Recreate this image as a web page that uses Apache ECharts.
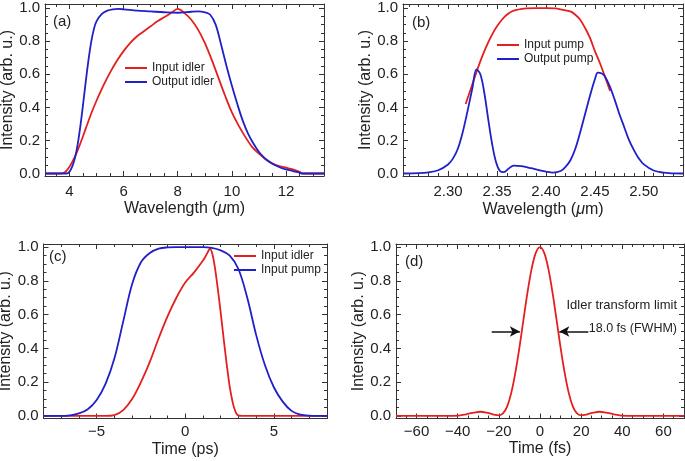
<!DOCTYPE html>
<html><head><meta charset="utf-8">
<script src="https://cdn.jsdelivr.net/npm/echarts@6/dist/echarts.min.js"></script>
<style>html,body{margin:0;padding:0;background:#fff}#c{width:685px;height:461px}</style>
</head><body><div id="c"></div>
<script>
const RED = '#e3201f', BLUE = '#2020c8';
const FONT = '"Liberation Sans", Arial, sans-serif';

// ---------- Panel (a): idler spectra ----------
const aWlInput = [3.1, 3.6, 3.8, 4.0, 4.2, 4.4, 4.6, 4.8, 5.0, 5.25, 5.5, 5.75, 6.0, 6.25, 6.5, 6.75, 7.0, 7.25, 7.5, 7.75, 8.0, 8.25, 8.5, 8.75, 9.0, 9.25, 9.5, 9.75, 10.0, 10.25, 10.5, 10.75, 11.0, 11.25, 11.5, 11.75, 12.0, 12.25, 12.5, 12.6, 13.4];
const aInputIdler = [0, 0, 0.005, 0.04, 0.10, 0.18, 0.27, 0.36, 0.44, 0.53, 0.61, 0.68, 0.74, 0.79, 0.83, 0.86, 0.89, 0.92, 0.945, 0.97, 0.995, 0.97, 0.93, 0.87, 0.79, 0.69, 0.58, 0.47, 0.37, 0.29, 0.22, 0.16, 0.12, 0.085, 0.06, 0.045, 0.035, 0.025, 0.01, 0, 0];
const aWlOutput = [3.1, 3.9, 4.0, 4.1, 4.2, 4.3, 4.4, 4.5, 4.6, 4.7, 4.8, 4.9, 5.0, 5.2, 5.4, 5.6, 5.8, 6.0, 6.5, 7.0, 7.5, 8.0, 8.5, 8.75, 9.0, 9.2, 9.4, 9.6, 9.8, 10.0, 10.2, 10.4, 10.6, 10.8, 11.0, 11.2, 11.4, 11.6, 11.8, 12.0, 12.25, 12.5, 12.6, 13.4];
const aOutputIdler = [0, 0, 0.01, 0.04, 0.09, 0.17, 0.28, 0.41, 0.55, 0.68, 0.79, 0.87, 0.92, 0.965, 0.985, 0.993, 0.995, 0.993, 0.985, 0.98, 0.975, 0.972, 0.978, 0.98, 0.975, 0.96, 0.90, 0.78, 0.65, 0.53, 0.42, 0.32, 0.24, 0.18, 0.13, 0.095, 0.07, 0.05, 0.035, 0.025, 0.015, 0.005, 0, 0];
const aXTicks = [4, 6, 8, 10, 12];

// ---------- Panel (b): pump spectra ----------
const bWlInput = [2.318, 2.322, 2.326, 2.33, 2.335, 2.34, 2.345, 2.35, 2.355, 2.36, 2.365, 2.37, 2.375, 2.38, 2.39, 2.40, 2.41, 2.415, 2.42, 2.425, 2.43, 2.435, 2.44, 2.445, 2.45, 2.455, 2.46, 2.4655];
const bInputPump = [0.42, 0.49, 0.56, 0.63, 0.71, 0.78, 0.84, 0.89, 0.93, 0.96, 0.98, 0.99, 0.995, 0.998, 1.0, 1.0, 0.998, 0.993, 0.987, 0.98, 0.96, 0.93, 0.88, 0.82, 0.74, 0.67, 0.59, 0.5];
const bWlOutput = [2.254, 2.27, 2.28, 2.29, 2.30, 2.305, 2.31, 2.315, 2.32, 2.325, 2.329, 2.333, 2.337, 2.341, 2.345, 2.349, 2.353, 2.357, 2.362, 2.367, 2.375, 2.385, 2.395, 2.40, 2.407, 2.415, 2.42, 2.425, 2.43, 2.435, 2.44, 2.445, 2.45, 2.453, 2.457, 2.46, 2.465, 2.47, 2.475, 2.48, 2.485, 2.49, 2.495, 2.50, 2.51, 2.52, 2.53, 2.54];
const bOutputPump = [0, 0.002, 0.007, 0.02, 0.055, 0.09, 0.15, 0.25, 0.38, 0.52, 0.63, 0.6, 0.49, 0.33, 0.18, 0.07, 0.015, 0.008, 0.03, 0.048, 0.045, 0.032, 0.018, 0.012, 0.006, 0.015, 0.04, 0.08, 0.15, 0.25, 0.36, 0.47, 0.57, 0.61, 0.605, 0.59, 0.53, 0.45, 0.36, 0.28, 0.2, 0.14, 0.09, 0.055, 0.018, 0.005, 0.001, 0];
const bXTicks = [2.30, 2.35, 2.40, 2.45, 2.50];

// ---------- Panel (c): temporal profiles ----------
const cTimeIdler = [-8, -4.5, -4, -3.5, -3, -2.5, -2, -1.5, -1, -0.5, 0, 0.5, 1, 1.2, 1.4, 1.55, 1.7, 1.9, 2.1, 2.3, 2.5, 2.6, 2.7, 2.8, 2.9, 3.0, 3.2, 8];
const cInputIdler = [0, 0, 0.005, 0.035, 0.1, 0.2, 0.32, 0.46, 0.59, 0.7, 0.79, 0.85, 0.92, 0.955, 0.99, 0.95, 0.86, 0.7, 0.52, 0.34, 0.18, 0.12, 0.07, 0.035, 0.012, 0.003, 0, 0];
const cTimePump = [-8, -7, -6.5, -6, -5.5, -5, -4.5, -4, -3.5, -3, -2.5, -2, -1.5, -1, -0.5, 0, 0.5, 1, 1.5, 2, 2.5, 3, 3.5, 4, 4.5, 5, 5.5, 6, 6.5, 7, 8];
const cInputPump = [0, 0, 0.004, 0.015, 0.04, 0.095, 0.19, 0.34, 0.56, 0.78, 0.91, 0.965, 0.99, 0.998, 1, 1, 1, 1, 0.995, 0.98, 0.95, 0.87, 0.7, 0.48, 0.3, 0.17, 0.085, 0.03, 0.008, 0.002, 0];
const cXTicks = [-5, 0, 5];

// ---------- Panel (d): transform limit ----------
const dTime = [-70, -45, -40, -36, -32, -29, -26, -23, -20, -18, -16, -14, -12, -10, -8, -6, -4, -2, 0, 2, 4, 6, 8, 10, 12, 14, 16, 18, 20, 23, 26, 29, 32, 36, 40, 45, 70];
const dIntensity = [0, 0, 0.002, 0.01, 0.02, 0.025, 0.02, 0.01, 0.004, 0.015, 0.055, 0.135, 0.255, 0.405, 0.573, 0.737, 0.875, 0.967, 1.0, 0.967, 0.875, 0.737, 0.573, 0.405, 0.255, 0.135, 0.055, 0.015, 0.004, 0.01, 0.02, 0.025, 0.02, 0.01, 0.002, 0, 0];
const dXTicks = [-60, -40, -20, 0, 20, 40, 60];

const yTicks = [0, 0.2, 0.4, 0.6, 0.8, 1.0];

function zip(xs, ys) { return xs.map((x, i) => [x, ys[i]]); }
function steps(min, max, step) {
  const v = []; const s = Math.ceil(min / step - 1e-9);
  for (let k = s; k * step <= max + 1e-9; k++) v.push(+(k * step).toFixed(6));
  return v;
}
const minus = v => String(v).replace('-', '\u2212');

const grids = [], xAxes = [], yAxes = [], series = [], legends = [];
const TXT = '#222', LINE = '#333';

function panel(p) {
  const gi = grids.length;
  grids.push({ left: p.left, top: p.top, width: p.width, height: p.height, containLabel: false, outerBoundsMode: 'none' });
  const xi = xAxes.length, yi = yAxes.length;
  const axLine = { show: true, onZero: false, lineStyle: { color: LINE, width: 1 } };
  const noLine = { show: false, onZero: false };
  const base = { type: 'value', gridIndex: gi, splitLine: { show: false }, silent: true };
  const tick = (vals, len) => ({ show: true, inside: true, length: len, customValues: vals, lineStyle: { color: LINE, width: 1 } });
  const xMinor = steps(p.xmin, p.xmax, p.xMinorStep);
  const yMinor = steps(p.ymin, p.ymax, 0.05);
  const xr = { min: p.xmin, max: p.xmax }, yr = { min: p.ymin, max: p.ymax };
  xAxes.push(Object.assign({}, base, xr, {
    position: 'bottom', axisLine: axLine, axisTick: tick(p.xTicks, 5),
    axisLabel: { show: true, customValues: p.xTicks, formatter: p.xFmt, margin: p.xLabelMargin, fontSize: 15, color: TXT, fontFamily: FONT },
    name: p.xName, nameLocation: 'middle', nameGap: p.xNameGap,
    nameTextStyle: { fontSize: 16, color: TXT, fontFamily: FONT, rich: { i: { fontSize: 16, fontStyle: 'italic', color: TXT, fontFamily: FONT } } }
  }));
  xAxes.push(Object.assign({}, base, xr, { position: 'top', axisLine: axLine, axisTick: tick(p.xTicks, 5), axisLabel: { show: false } }));
  xAxes.push(Object.assign({}, base, xr, { position: 'bottom', axisLine: noLine, axisTick: tick(xMinor, 3), axisLabel: { show: false } }));
  xAxes.push(Object.assign({}, base, xr, { position: 'top', axisLine: noLine, axisTick: tick(xMinor, 3), axisLabel: { show: false } }));
  yAxes.push(Object.assign({}, base, yr, {
    position: 'left', axisLine: axLine, axisTick: tick(yTicks, 5),
    axisLabel: { show: true, customValues: yTicks, formatter: v => v.toFixed(1), margin: 5, fontSize: 15, color: TXT, fontFamily: FONT },
    name: 'Intensity (arb. u.)', nameLocation: 'middle', nameGap: p.yNameGap, nameRotate: 90,
    nameTextStyle: { fontSize: 16, color: TXT, fontFamily: FONT }
  }));
  yAxes.push(Object.assign({}, base, yr, { position: 'right', axisLine: axLine, axisTick: tick(yTicks, 5), axisLabel: { show: false } }));
  yAxes.push(Object.assign({}, base, yr, { position: 'left', axisLine: noLine, axisTick: tick(yMinor, 3), axisLabel: { show: false } }));
  yAxes.push(Object.assign({}, base, yr, { position: 'right', axisLine: noLine, axisTick: tick(yMinor, 3), axisLabel: { show: false } }));
  p.series.forEach((s, k) => {
    const o = {
      type: 'line', name: s.name, xAxisIndex: xi, yAxisIndex: yi, data: s.data,
      showSymbol: false, symbol: 'none', smooth: 0.35, silent: true,
      lineStyle: { color: s.color, width: 1.8 }, itemStyle: { color: s.color }, z: 2 + k, animation: false
    };
    if (s.markLine) o.markLine = s.markLine;
    series.push(o);
  });
  if (p.legend) {
    legends.push(Object.assign({
      orient: 'vertical', icon: 'rect', itemWidth: 22, itemHeight: 2, itemGap: 2, padding: 0, selectedMode: false,
      textStyle: { fontSize: 12, color: TXT, fontFamily: FONT },
      data: p.series.map(s => ({ name: s.name, itemStyle: { color: s.color } }))
    }, p.legend));
  }
}

panel({
  left: 45, top: 4, width: 279, height: 172,
  xmin: 3.1, xmax: 13.4, xTicks: aXTicks, xMinorStep: 0.5, xFmt: v => String(v),
  ymin: -0.015, ymax: 1.025,
  xName: 'Wavelength ({i|\u03bc}m)', xNameGap: 25, yNameGap: 25, xLabelMargin: 8,
  legend: { left: 125, top: 62 },
  series: [
    { name: 'Input idler', color: RED, data: zip(aWlInput, aInputIdler) },
    { name: 'Output idler', color: BLUE, data: zip(aWlOutput, aOutputIdler) }
  ]
});
panel({
  left: 403, top: 4, width: 280, height: 172,
  xmin: 2.254, xmax: 2.54, xTicks: bXTicks, xMinorStep: 0.01, xFmt: v => v.toFixed(2),
  ymin: -0.015, ymax: 1.025,
  xName: 'Wavelength ({i|\u03bc}m)', xNameGap: 26, yNameGap: 28, xLabelMargin: 8,
  legend: { left: 497, top: 39 },
  series: [
    { name: 'Input pump', color: RED, data: zip(bWlInput, bInputPump) },
    { name: 'Output pump', color: BLUE, data: zip(bWlOutput, bOutputPump) }
  ]
});
panel({
  left: 43.5, top: 244, width: 283.5, height: 174.5,
  xmin: -8, xmax: 8, xTicks: cXTicks, xMinorStep: 1, xFmt: minus,
  ymin: -0.015, ymax: 1.018,
  xName: 'Time (ps)', xNameGap: 23, yNameGap: 26, xLabelMargin: 6,
  legend: { left: 234, top: 250 },
  series: [
    { name: 'Input idler', color: RED, data: zip(cTimeIdler, cInputIdler) },
    { name: 'Input pump', color: BLUE, data: zip(cTimePump, cInputPump) }
  ]
});
panel({
  left: 396, top: 244, width: 288, height: 174.5,
  xmin: -70, xmax: 70, xTicks: dXTicks, xMinorStep: 5, xFmt: minus,
  ymin: -0.015, ymax: 1.018,
  xName: 'Time (fs)', xNameGap: 21, yNameGap: 24, xLabelMargin: 6,
  series: [
    { name: 'Idler transform limit', color: RED, data: zip(dTime, dIntensity),
      markLine: {
        silent: true, symbol: ['none', 'arrow'], symbolSize: [8, 10], animation: false,
        label: { show: false },
        lineStyle: { color: '#111', width: 1.5, type: 'solid' },
        data: [
          [{ coord: [-23.5, 0.5] }, { coord: [-9.8, 0.5] }],
          [{ coord: [23.5, 0.5] }, { coord: [9.4, 0.5] }]
        ]
      } }
  ]
});

const graphic = [
  { t: '(a)', x: 53, y: 22 }, { t: '(b)', x: 412, y: 23 },
  { t: '(c)', x: 49, y: 257 }, { t: '(d)', x: 405, y: 262 }
].map(g => ({ type: 'text', x: g.x, y: g.y, silent: true,
  style: { text: g.t, font: '15px ' + FONT, fill: TXT, verticalAlign: 'middle' } }));
graphic.push({ type: 'text', x: 677, y: 305, silent: true,
  style: { text: 'Idler transform limit', font: '13px ' + FONT, fill: TXT, align: 'right', verticalAlign: 'middle' } });
graphic.push({ type: 'text', x: 677, y: 329, silent: true,
  style: { text: '18.0 fs (FWHM)', font: '12.5px ' + FONT, fill: TXT, align: 'right', verticalAlign: 'middle' } });

const chart = echarts.init(document.getElementById('c'), null, { renderer: 'canvas' });
chart.setOption({
  animation: false,
  backgroundColor: '#fff',
  grid: grids, xAxis: xAxes, yAxis: yAxes, series: series, legend: legends, graphic: graphic
});
</script>
</body></html>
